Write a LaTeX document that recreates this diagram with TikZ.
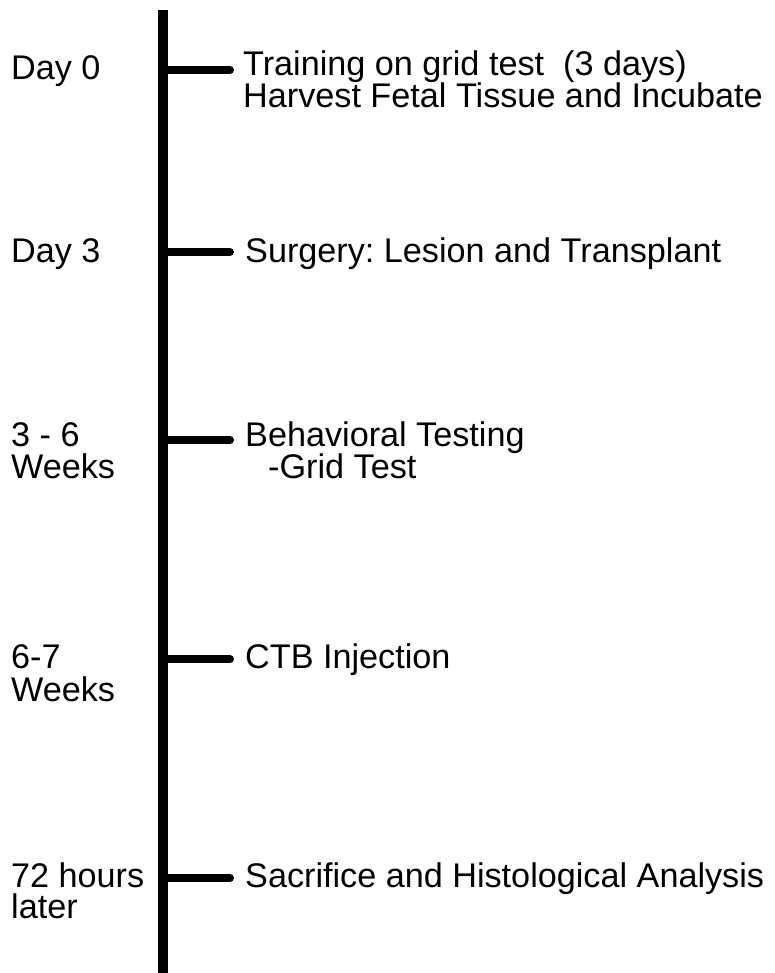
\documentclass[tikz,border=0pt]{standalone}
\usepackage{fontspec}
\setmainfont{Liberation Sans}
\frenchspacing
\begin{document}
\begin{tikzpicture}[x=1pt,y=-1pt,
  lbl/.style={anchor=base west,inner sep=0pt,font=\fontsize{34.2}{40}\selectfont},
  spine/.style={line width=10pt},
  tickline/.style={line width=8pt,line cap=round}]
\useasboundingbox (0,0) rectangle (775,973);
% spine
\coordinate (top) at (163,10);
\coordinate (bot) at (163,973);
\draw[spine] (top) -- (bot);
% tick anchors
\coordinate (s0) at (163,70);  \coordinate (e0) at (230,70);
\coordinate (s1) at (163,252); \coordinate (e1) at (230,252);
\coordinate (s2) at (163,440); \coordinate (e2) at (230,440);
\coordinate (s3) at (163,659); \coordinate (e3) at (230,659);
\coordinate (s4) at (163,878); \coordinate (e4) at (230,878);
\foreach \i in {0,...,4}{\draw[tickline] (s\i) -- (e\i);}
% left labels
\node[lbl] (d0) at (11,80) {Day 0};
\node[lbl] (d3) at (11,262) {Day 3};
\node[lbl] (w36a) at (11,446) {3 - 6};
\node[lbl] (w36b) at (11,478) {Weeks};
\node[lbl] (w67a) at (11,668) {6-7};
\node[lbl] (w67b) at (11,701) {Weeks};
\node[lbl] (h72a) at (11,887) {72 hours};
\node[lbl] (h72b) at (11,918) {later};
% right labels
\node[lbl] (ev0a) at (243,76) {Training on grid test\ \ (3 days)};
\node[lbl] (ev0b) at (243,108) {Harvest Fetal Tissue and Incubate};
\node[lbl] (ev1) at (245,262) {Surgery: Lesion and Transplant};
\node[lbl] (ev2a) at (245,446) {Behavioral Testing};
\node[lbl] (ev2b) at (268,478) {-Grid Test};
\node[lbl] (ev3) at (245,668) {CTB Injection};
\node[lbl] (ev4) at (245,887) {Sacrifice and Histological Analysis};
\end{tikzpicture}
\end{document}
